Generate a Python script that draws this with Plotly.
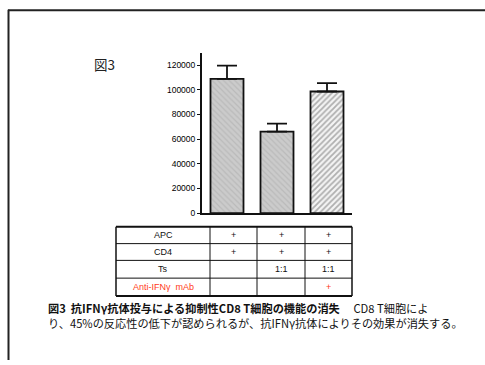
import plotly.graph_objects as go

# ---- data ----
conditions = ["A", "B", "C"]
values = [108800, 66000, 98600]
errors_up = [10700, 6500, 6700]
y_ticks = [0, 20000, 40000, 60000, 80000, 100000, 120000]
row_labels = ["APC", "CD4", "Ts", "Anti-IFN\u03b3  mAb"]
row_cells = [["+", "+", "+"], ["+", "+", "+"], ["", "1:1", "1:1"], ["", "", "+"]]
fig_label = "図3"
caption_bold = "図3  抗IFNγ抗体投与による抑制性CD8 T細胞の機能の消失"
caption_rest1 = "　 CD8 T細胞によ"
caption_line2 = "り、45%の反応性の低下が認められるが、抗IFNγ抗体によりその効果が消失する。"

W, H = 485, 365
def px(x): return x / W
def py(y): return 1 - y / H

patterns = [
    dict(shape="\\", bgcolor="#cbcbcb", fgcolor="#a9a9a9", size=4, solidity=0.3),
    dict(shape="\\", bgcolor="#cbcbcb", fgcolor="#a9a9a9", size=4, solidity=0.3),
    dict(shape="/", bgcolor="#f4f4f4", fgcolor="#6a6a6a", size=4, solidity=0.45),
]

fig = go.Figure()
for i, c in enumerate(conditions):
    fig.add_trace(go.Bar(
        x=[i], y=[values[i]], width=0.66,
        marker=dict(color="#cbcbcb", pattern=patterns[i],
                    line=dict(color="#111111", width=1.8)),
        error_y=dict(type="data", symmetric=False, array=[errors_up[i]],
                     arrayminus=[0], color="#111111", thickness=1.8, width=10),
        showlegend=False, hoverinfo="skip",
    ))

fig.update_layout(
    width=W, height=H, margin=dict(l=0, r=0, t=0, b=0),
    paper_bgcolor="white", plot_bgcolor="white",
    xaxis=dict(domain=[px(202), px(352)], range=[-0.5, 2.5], showticklabels=False,
               ticks="", showgrid=False, zeroline=False, showline=True,
               linecolor="#111111", linewidth=2),
    yaxis=dict(domain=[py(216), py(54)], range=[0, 129600], tickvals=y_ticks,
               ticktext=[str(v) for v in y_ticks], ticks="outside", ticklen=3,
               tickwidth=1, tickcolor="#111111", showgrid=False, zeroline=False,
               showline=True, linecolor="#111111", linewidth=2,
               tickfont=dict(family="Liberation Sans", size=8.5, color="#000000")),
    font=dict(family="Noto Sans CJK JP"),
)

shapes = []
# frame (top and left only)
shapes.append(dict(type="line", xref="paper", yref="paper", x0=px(8), x1=px(485),
                   y0=py(10.5), y1=py(10.5), line=dict(color="#222222", width=2)))
shapes.append(dict(type="line", xref="paper", yref="paper", x0=px(8.5), x1=px(8.5),
                   y0=py(10), y1=py(365), line=dict(color="#222222", width=2)))
# table
row_y = [230, 247, 264, 282, 300]
col_x = [116, 210, 257, 305, 352]
for j, yv in enumerate(row_y):
    w = 2 if j in (0, len(row_y) - 1) else 1
    shapes.append(dict(type="line", xref="paper", yref="paper", x0=px(116), x1=px(352),
                       y0=py(yv), y1=py(yv), line=dict(color="#111111", width=w)))
for j, xv in enumerate(col_x):
    w = 1.5 if j in (0, len(col_x) - 1) else 1
    shapes.append(dict(type="line", xref="paper", yref="paper", x0=px(xv), x1=px(xv),
                       y0=py(230), y1=py(300), line=dict(color="#111111", width=w)))
fig.update_layout(shapes=shapes)

ann = []
for r, lab in enumerate(row_labels):
    yc = (row_y[r] + row_y[r + 1]) / 2
    col = "#ff3a1a" if r == 3 else "#111111"
    ann.append(dict(text=lab, x=px((col_x[0] + col_x[1]) / 2), y=py(yc), xref="paper",
                    yref="paper", showarrow=False, xanchor="center", yanchor="middle",
                    font=dict(family="Liberation Sans", size=9, color=col)))
    for k, cell in enumerate(row_cells[r]):
        if cell:
            ann.append(dict(text=cell, x=px((col_x[k + 1] + col_x[k + 2]) / 2), y=py(yc),
                            xref="paper", yref="paper", showarrow=False,
                            xanchor="center", yanchor="middle",
                            font=dict(family="Liberation Sans", size=9, color=col)))
ann.append(dict(text=fig_label, x=px(92), y=py(65), xref="paper", yref="paper",
                showarrow=False, xanchor="left", yanchor="middle",
                font=dict(family="Noto Sans CJK JP", size=13.5, color="#222222")))
ann.append(dict(text="<b>" + caption_bold + "</b>" + caption_rest1, x=px(46), y=py(312),
                xref="paper", yref="paper", showarrow=False, xanchor="left",
                yanchor="middle", font=dict(family="Noto Sans CJK JP", size=11.2,
                                            color="#111111")))
ann.append(dict(text=caption_line2, x=px(46), y=py(327), xref="paper", yref="paper",
                showarrow=False, xanchor="left", yanchor="middle",
                font=dict(family="Noto Sans CJK JP", size=11.2, color="#111111")))
fig.update_layout(annotations=ann)

fig.write_html("out.html")
